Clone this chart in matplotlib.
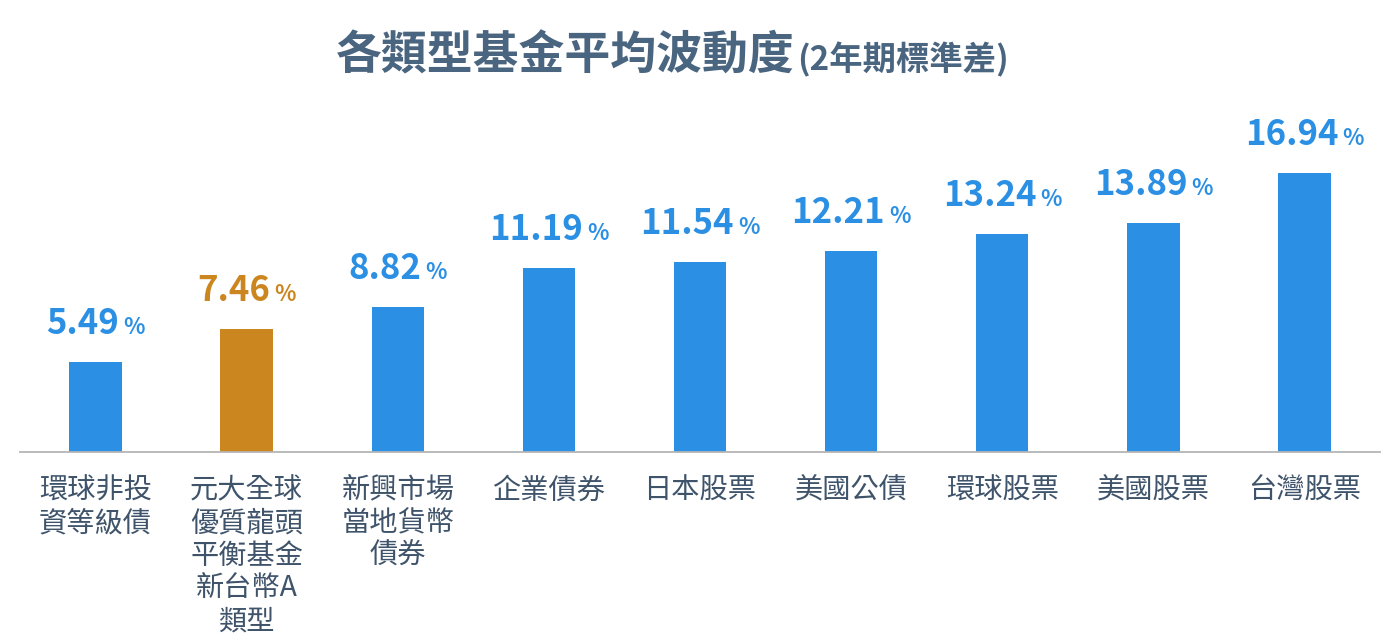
import matplotlib
matplotlib.use("Agg")
import matplotlib.pyplot as plt
from matplotlib.offsetbox import TextArea, HPacker, AnnotationBbox

plt.rcParams['font.family'] = ['Noto Sans CJK TC', 'DejaVu Sans']

categories = ['環球非投\n資等級債', '元大全球\n優質龍頭\n平衡基金\n新台幣A\n類型', '新興市場\n當地貨幣\n債券',
              '企業債券', '日本股票', '美國公債', '環球股票', '美國股票', '台灣股票']
values = [5.49, 7.46, 8.82, 11.19, 11.54, 12.21, 13.24, 13.89, 16.94]
highlight = [False, True, False, False, False, False, False, False, False]

BLUE = '#2b8fe3'
ORANGE = '#cc861f'
TEXT = '#3f546b'
TITLE = '#4a6580'

W, H = 1400, 640
fig = plt.figure(figsize=(W / 100, H / 100), dpi=100)
ax = fig.add_axes([20 / W, 1 - 452 / H, 1360 / W, 352 / H])

colors = [ORANGE if h else BLUE for h in highlight]
x = list(range(len(values)))
ax.bar(x, values, width=0.347, color=colors, zorder=2)
ax.set_xlim(-0.5, len(values) - 0.5)
ax.set_ylim(0, 352 / 16.47)

for s in ['top', 'right', 'left']:
    ax.spines[s].set_visible(False)
ax.spines['bottom'].set_color('#b5b5b5')
ax.spines['bottom'].set_linewidth(1.3)
ax.set_yticks([])
ax.set_xticks(x)
ax.set_xticklabels(categories, fontsize=20.3, color=TEXT, linespacing=1.12, va='top',
                   fontweight='medium')
ax.tick_params(axis='x', length=0, pad=17)

for xi, v, c in zip(x, values, colors):
    num = TextArea(f'{v:.2f}', textprops=dict(fontsize=25, fontweight='bold', color=c,
                                               family=['Noto Sans CJK TC', 'DejaVu Sans']))
    pct = TextArea('%', textprops=dict(fontsize=16, fontweight='bold', color=c,
                                       family=['Noto Sans CJK TC', 'DejaVu Sans']))
    pack = HPacker(children=[num, pct], align='baseline', pad=0, sep=3)
    ab = AnnotationBbox(pack, (xi, v), xybox=(0, 15), xycoords='data',
                        boxcoords='offset points', box_alignment=(0.5, 0.0), frameon=False)
    ax.add_artist(ab)

fig.text(795 / W, 1 - 70 / H, '各類型基金平均波動度', fontsize=33, fontweight='bold',
         color=TITLE, ha='right', va='baseline')
fig.text(797 / W, 1 - 70 / H, '(2年期標準差)', fontsize=24, fontweight='bold',
         color=TITLE, ha='left', va='baseline')

fig.savefig('out.png', dpi=100, facecolor='white')
